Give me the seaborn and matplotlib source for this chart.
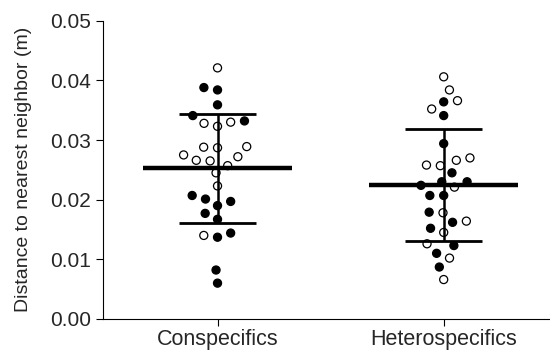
import numpy as np
import pandas as pd
import seaborn as sns
import matplotlib.pyplot as plt

# values (m)
groups = ["Conspecifics", "Heterospecifics"]
cons_filled = [0.0388, 0.0384, 0.0359, 0.0341, 0.0332, 0.0207, 0.0201, 0.0190,
               0.0197, 0.0177, 0.0167, 0.0137, 0.0144, 0.0082, 0.0060]
cons_open = [0.0421, 0.0328, 0.0323, 0.0330, 0.0289, 0.0287, 0.0288, 0.0272,
             0.0275, 0.0266, 0.0265, 0.0257, 0.0245, 0.0223, 0.0140]
het_filled = [0.0364, 0.0341, 0.0294, 0.0245, 0.0224, 0.0230, 0.0230, 0.0207,
              0.0207, 0.0179, 0.0162, 0.0152, 0.0123, 0.0110, 0.0087]
het_open = [0.0406, 0.0384, 0.0366, 0.0352, 0.0270, 0.0258, 0.0257, 0.0266,
            0.0221, 0.0178, 0.0164, 0.0145, 0.0126, 0.0102, 0.0066]
y_ticks = [0.00, 0.01, 0.02, 0.03, 0.04, 0.05]

rows = []
for g, vals, kind in [(groups[0], cons_filled, "filled"), (groups[0], cons_open, "open"),
                      (groups[1], het_filled, "filled"), (groups[1], het_open, "open")]:
    for v in vals:
        rows.append({"group": g, "dist": v, "kind": kind})
data = pd.DataFrame(rows)

sns.set_style("ticks")
plt.rcParams["font.family"] = ["Liberation Sans", "DejaVu Sans"]

fig = plt.figure(figsize=(5.5, 3.52), dpi=100)
ax = fig.add_axes([0.187, 0.094, 0.813, 0.847])

# swarm laid out with a bigger marker so the columns spread like the original
sns.swarmplot(data=data, x="group", y="dist", hue="kind", order=groups,
              hue_order=["filled", "open"],
              palette={"filled": "black", "open": "white"},
              edgecolor="black", linewidth=0.9, size=8.6, legend=False, ax=ax)

ax.set_xlim(-0.507, 1.47)
ax.set_ylim(0, 0.05)
fig.canvas.draw()
# freeze the swarm positions, then shrink the markers
for c in ax.collections:
    if "draw" in c.__dict__:
        del c.draw
    c.set_sizes([5.8 ** 2])

# mean and SD bars
stats = data.groupby("group")["dist"].agg(["mean", "std"]).reindex(groups)
for i, g in enumerate(groups):
    m, s = stats.loc[g, "mean"], stats.loc[g, "std"]
    ax.hlines(m, i - 0.33, i + 0.33, color="black", lw=3.2, zorder=5)
    ax.hlines([m - s, m + s], i - 0.17, i + 0.17, color="black", lw=2, zorder=5)
    ax.vlines(i, m - s, m + s, color="black", lw=1.8, zorder=5)

ax.set_yticks(y_ticks)
ax.set_yticklabels([f"{t:.2f}" for t in y_ticks])
ax.set_xlabel("")
ax.set_ylabel("Distance to nearest neighbor (m)", fontsize=14, labelpad=13)
ax.tick_params(axis="both", labelsize=15, length=5, width=0.8, color="black")
ax.tick_params(axis="x", labelsize=15.5, pad=2)
for side in ["top", "right"]:
    ax.spines[side].set_visible(False)
for side in ["left", "bottom"]:
    ax.spines[side].set_linewidth(0.8)
    ax.spines[side].set_color("black")

plt.savefig("out.png", dpi=100)
plt.close()
